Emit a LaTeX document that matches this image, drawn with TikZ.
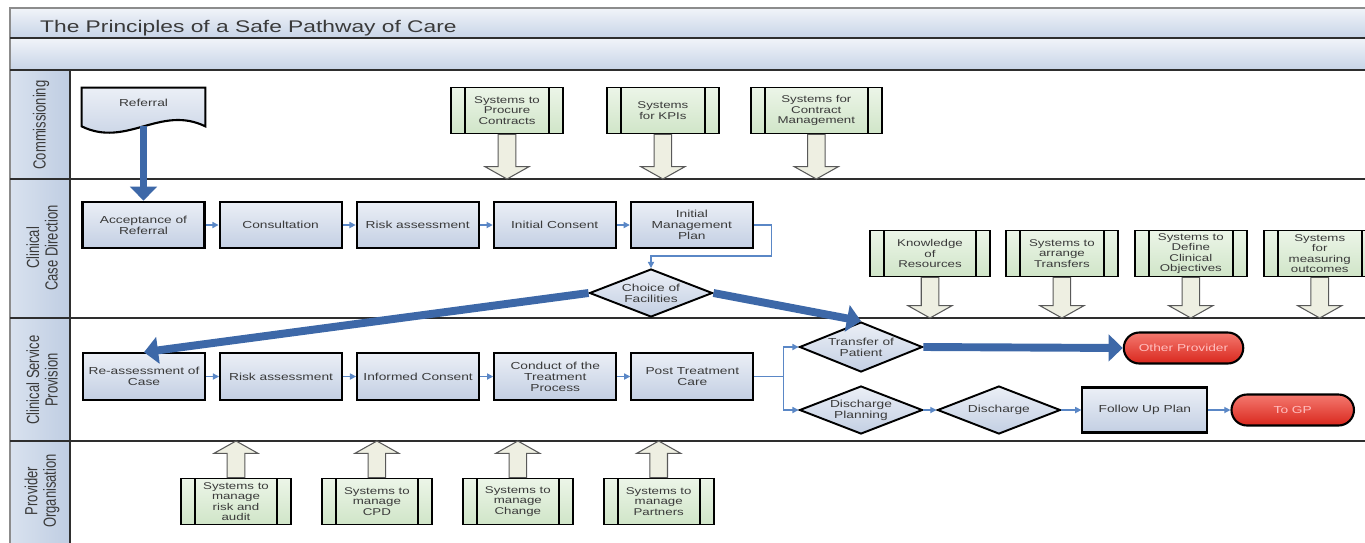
\documentclass[tikz,border=0pt]{standalone}
\usepackage{fontspec}
\setmainfont[FakeStretch=1.35]{Liberation Sans}
\newfontfamily\lanefont[FakeStretch=0.74]{Liberation Sans}
\usetikzlibrary{positioning,shapes.geometric,shapes.misc,arrows.meta,calc}

\definecolor{txtgray}{HTML}{3A3A3A}
\definecolor{procA}{HTML}{EBEFF6}
\definecolor{procB}{HTML}{C3CFE3}
\definecolor{sysA}{HTML}{ECF5E8}
\definecolor{sysB}{HTML}{D0E5C8}
\definecolor{flowblue}{HTML}{5A87C6}
\definecolor{bigblue}{HTML}{3D68A8}
\definecolor{beige}{HTML}{EEEFE2}
\definecolor{redA}{HTML}{F4796F}
\definecolor{redB}{HTML}{D9271D}
\definecolor{laneA}{HTML}{D9E2EF}
\definecolor{laneB}{HTML}{BFCDE2}
\definecolor{bandA}{HTML}{F1F4F9}
\definecolor{bandB}{HTML}{C7D4E7}
\definecolor{lineg}{HTML}{2E2E2E}

\newcommand{\boxfont}{\fontsize{5.8}{6.3}\selectfont}
% hollow block arrow from #1 to #2 (vertical)
\newcommand{\fatarrow}[2]{%
  \draw[fatarr] let \p1=(#1), \p2=(#2), \n1={sign(\y2-\y1)} in
    (\x1-5pt,\y1) -- (\x1-5pt,\y2-\n1*7pt) -- (\x1-12.5pt,\y2-\n1*7pt) -- (\x1,\y2)
    -- (\x1+12.5pt,\y2-\n1*7pt) -- (\x1+5pt,\y2-\n1*7pt) -- (\x1+5pt,\y1) -- cycle;}

\begin{document}
\begin{tikzpicture}[x=0.02cm, y=-0.02cm, node distance=0.26cm,
    procbox/.style = {draw=black, line width=1.2pt, top color=procA, bottom color=procB,
      minimum width=2.44cm, minimum height=0.93cm, inner sep=1pt, align=center,
      text=txtgray, font=\boxfont},
    sysbox/.style = {draw=black, line width=1.1pt, top color=sysA, bottom color=sysB,
      minimum width=2.24cm, minimum height=0.92cm, inner sep=1pt, align=center,
      text=txtgray, font=\fontsize{5.6}{6}\selectfont,
      path picture={\draw[line width=1.1pt]
        ([xshift=0.28cm]path picture bounding box.north west) -- ([xshift=0.28cm]path picture bounding box.south west)
        ([xshift=-0.28cm]path picture bounding box.north east) -- ([xshift=-0.28cm]path picture bounding box.south east);}},
    decision/.style = {diamond, aspect=2.5, draw=black, line width=1.1pt, top color=procA,
      bottom color=procB, minimum width=2.46cm, minimum height=0.96cm, inner sep=0pt,
      align=center, text=txtgray, font=\boxfont},
    endcap/.style = {rounded rectangle, draw=black, line width=1.2pt, top color=redA,
      bottom color=redB, minimum width=2.46cm, minimum height=0.62cm, inner sep=1pt,
      text=red!25!white, font=\boxfont},
    lanelbl/.style = {rotate=90, align=center, text=txtgray, font=\lanefont\fontsize{10}{10.5}\selectfont},
    flow/.style = {draw=flowblue, line width=0.7pt, -{Triangle[length=3.5pt,width=3.5pt]}},
    bigflow/.style = {draw=bigblue, line width=4.5pt, -{Triangle[length=8pt,width=15pt]}},
    fatarr/.style = {draw=black!65, line width=0.6pt, fill=beige}]

\useasboundingbox (0,0) rectangle (1365,542);
\clip (0,0) rectangle (1365,542);
\fill[white] (0,0) rectangle (1365,542);

% frame and lanes
\shade[top color=bandA, bottom color=bandB] (10,8) rectangle (1380,38);
\shade[top color=bandA, bottom color=bandB] (10,38) rectangle (1380,70);
\shade[left color=laneA, right color=laneB] (10,70) rectangle (70,550);
\draw[black!45, line width=0.8pt] (10,550) -- (10,8) -- (1380,8);
\coordinate (l0) at (0,179);
\coordinate (l1) at (0,318);
\coordinate (l2) at (0,441);
\draw[lineg, line width=1.2pt] (10,38) -- (1380,38);
\draw[lineg, line width=1.2pt] (10,70) -- (1380,70);
\draw[lineg, line width=1.2pt] (10,179) -- (1380,179);
\draw[lineg, line width=1.2pt] (10,318) -- (1380,318);
\draw[lineg, line width=1.2pt] (10,441) -- (1380,441);
\draw[lineg, line width=1.2pt] (70,70) -- (70,550);

\node[anchor=base west, text=txtgray, font=\fontsize{9.6}{11}\selectfont] (title) at (34,32) {The Principles of a Safe Pathway of Care};

\node[lanelbl] (lcom) at (41,125) {Commissioning};
\node[lanelbl] (lccd) at (42,248) {Clinical\\Case Direction};
\node[lanelbl] (lcsp) at (42,380) {Clinical Service\\Provision};
\node[lanelbl] (lpo) at (42,491) {Provider\\Organisation};

% Commissioning
\node[minimum width=2.46cm, minimum height=0.76cm, inner sep=0pt] (ref) at (143.5,107) {};
\draw[line width=1.2pt, top color=procA, bottom color=procB] (ref.south west) -- (ref.north west)
  -- (ref.north east) -- (ref.south east) .. controls +(-45,-22) and +(45,22) .. (ref.south west) -- cycle;
\node[text=txtgray, font=\boxfont] (reftxt) at (143.5,103) {Referral};

\node[sysbox] (procure) at (507,110.5) {Systems to\\Procure\\Contracts};
\node[sysbox, right=0.84cm of procure] (kpi) {Systems\\for KPIs};
\node[sysbox, minimum width=2.62cm, right=0.6cm of kpi] (contract) {Systems for\\Contract\\Management};

% Clinical Case Direction
\node[procbox] (accept) at (143.5,225) {Acceptance of\\Referral};
\node[procbox, right=of accept] (consult) {Consultation};
\node[procbox, right=of consult] (risk1) {Risk assessment};
\node[procbox, right=of risk1] (consent) {Initial Consent};
\node[procbox, right=of consent] (imp) {Initial\\Management\\Plan};
\node[decision] (choice) at (651,293) {Choice of\\Facilities};

\node[sysbox, minimum width=2.4cm] (know) at (930,253.5) {Knowledge\\of\\Resources};
\node[sysbox, right=0.28cm of know] (arrange) {Systems to\\arrange\\Transfers};
\node[sysbox, right=0.3cm of arrange] (define) {Systems to\\Define\\Clinical\\Objectives};
\node[sysbox, right=0.3cm of define] (measure) {Systems\\for\\measuring\\outcomes};

% Clinical Service Provision
\node[procbox] (reassess) at (144,376.5) {Re-assessment of\\Case};
\node[procbox, right=of reassess] (risk2) {Risk assessment};
\node[procbox, right=of risk2] (informed) {Informed Consent};
\node[procbox, right=of informed] (conduct) {Conduct of the\\Treatment\\Process};
\node[procbox, right=of conduct] (post) {Post Treatment\\Care};

\node[decision, minimum height=1cm] (transfer) at (861,347) {Transfer of\\Patient};
\node[endcap] (other) at (1183.5,348) {Other Provider};
\node[decision] (dplan) at (861,410) {Discharge\\Planning};
\node[decision, right=of dplan] (discharge) {Discharge};
\node[procbox, minimum width=2.5cm, minimum height=0.9cm, right=0.4cm of discharge] (followup) {Follow Up Plan};
\node[endcap, minimum width=2.52cm, right=0.44cm of followup] (togp) {To GP};

% Provider Organisation
\node[sysbox, minimum width=2.2cm] (mrisk) at (236,501.5) {Systems to\\manage\\risk and\\audit};
\node[sysbox, minimum width=2.2cm, right=0.58cm of mrisk] (mcpd) {Systems to\\manage\\CPD};
\node[sysbox, minimum width=2.2cm, right=0.58cm of mcpd] (mchange) {Systems to\\manage\\Change};
\node[sysbox, minimum width=2.2cm, right=0.58cm of mchange] (mpartner) {Systems to\\manage\\Partners};

% connectors
\foreach \a/\b in {accept/consult, consult/risk1, risk1/consent, consent/imp,
                   reassess/risk2, risk2/informed, informed/conduct, conduct/post,
                   dplan/discharge, discharge/followup, followup/togp}
  \draw[flow] (\a) -- (\b);
\draw[flow] (imp.east) -- ++(18,0) |- ([yshift=0.24cm]choice.north) -- (choice.north);
\draw[flow, -] (post.east) -- ++(29,0) coordinate (split);
\draw[flow] (split) |- (transfer.west);
\draw[flow] (split) |- (dplan.west);

\draw[bigflow] (ref.south) -- (accept.north);
\draw[bigflow] (choice.west) -- (reassess.north);
\draw[bigflow] (choice.east) -- (transfer.north);
\draw[bigflow] (transfer.east) -- (other.west);

\fatarrow{procure.south}{procure.south |- l0}
\fatarrow{kpi.south}{kpi.south |- l0}
\fatarrow{contract.south}{contract.south |- l0}
\fatarrow{know.south}{know.south |- l1}
\fatarrow{arrange.south}{arrange.south |- l1}
\fatarrow{define.south}{define.south |- l1}
\fatarrow{measure.south}{measure.south |- l1}
\fatarrow{mrisk.north}{mrisk.north |- l2}
\fatarrow{mcpd.north}{mcpd.north |- l2}
\fatarrow{mchange.north}{mchange.north |- l2}
\fatarrow{mpartner.north}{mpartner.north |- l2}
\end{tikzpicture}
\end{document}
